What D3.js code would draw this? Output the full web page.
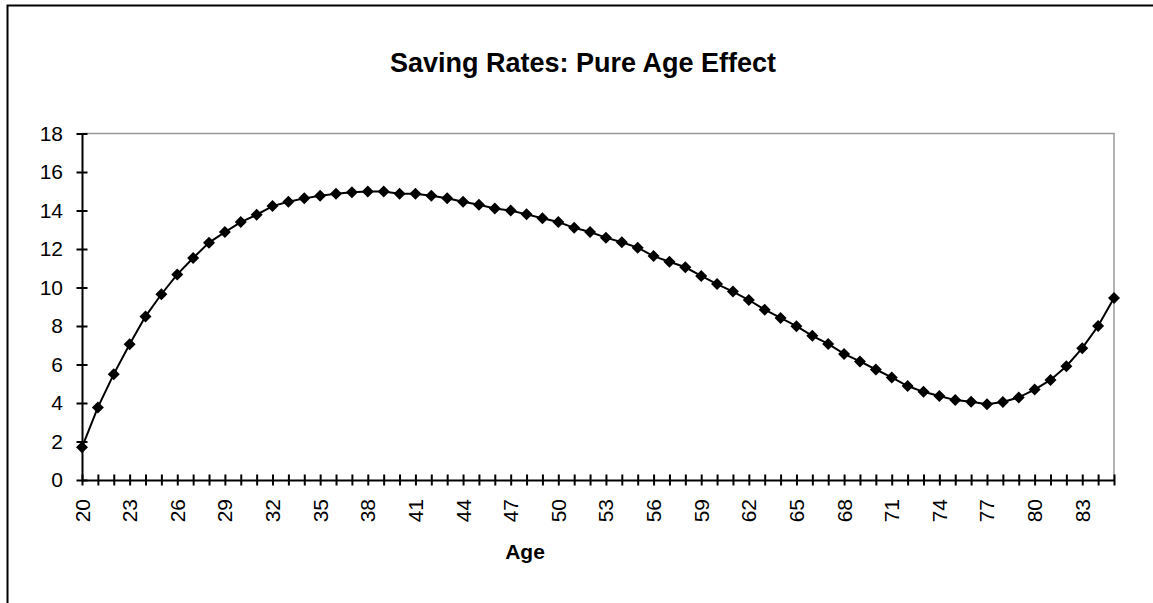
<!DOCTYPE html>
<html>
<head>
<meta charset="utf-8">
<script src="https://cdn.jsdelivr.net/npm/d3@7"></script>
<style>
  html, body { margin: 0; padding: 0; background: #fff; }
  svg { display: block; font-family: "Liberation Sans", Arial, sans-serif; }
</style>
</head>
<body>
<svg id="chart" width="1153" height="603"></svg>
<script>
const title = "Saving Rates: Pure Age Effect";
const xTitle = "Age";
const ages = d3.range(20, 86);
const savingRates = [
  1.70, 3.77, 5.50, 7.05, 8.50, 9.65, 10.68, 11.53, 12.33, 12.88,
  13.40, 13.78, 14.23, 14.45, 14.63, 14.77, 14.87, 14.95, 14.99, 14.99,
  14.87, 14.87, 14.77, 14.64, 14.45, 14.30, 14.10, 14.00, 13.80, 13.60,
  13.40, 13.10, 12.88, 12.59, 12.35, 12.07, 11.63, 11.34, 11.05, 10.60,
  10.18, 9.79, 9.35, 8.85, 8.42, 7.99, 7.49, 7.07, 6.55, 6.16,
  5.74, 5.33, 4.88, 4.58, 4.36, 4.15, 4.06, 3.93, 4.05, 4.29,
  4.70, 5.20, 5.91, 6.85, 8.00, 9.46
];
const xTickLabels = d3.range(20, 86, 3);
const yTicks = [0, 2, 4, 6, 8, 10, 12, 14, 16, 18];

(function () {
const svg = d3.select("#chart");

// outer chart frame (extends beyond the visible window on right/bottom)
svg.append("rect")
  .attr("x", 7.5).attr("y", 5.5)
  .attr("width", 1200).attr("height", 700)
  .attr("fill", "none").attr("stroke", "#000").attr("stroke-width", 2);

const pLeft = 82, pRight = 1114, pTop = 133.5, pBottom = 480;
const x = d3.scaleLinear().domain([20, 85]).range([pLeft, pRight]);
const y = d3.scaleLinear().domain([0, 18]).range([pBottom, pTop]);

// plot area border (gray top and right)
svg.append("path")
  .attr("d", `M${pLeft},${pTop}H${pRight}V${pBottom}`)
  .attr("fill", "none").attr("stroke", "#999").attr("stroke-width", 1.5);

// y axis
const yAxis = svg.append("g")
  .attr("transform", `translate(${pLeft},0)`)
  .call(d3.axisLeft(y).tickValues(yTicks).tickSize(0).tickPadding(19).tickFormat(d3.format("d")));
yAxis.select(".domain").attr("stroke", "#000").attr("stroke-width", 2);
yAxis.selectAll(".tick line").attr("x1", -5.5).attr("x2", 5.5).attr("stroke", "#000").attr("stroke-width", 2);
yAxis.selectAll(".tick text").attr("font-size", 21).attr("fill", "#000")
  .attr("font-family", "Liberation Sans, Arial, sans-serif");

// x axis
const xAxis = svg.append("g")
  .attr("transform", `translate(0,${pBottom})`)
  .call(d3.axisBottom(x).tickValues(ages).tickSize(0).tickFormat(""));
xAxis.select(".domain").attr("stroke", "#000").attr("stroke-width", 2);
xAxis.selectAll(".tick line").attr("y1", -5.5).attr("y2", 5.5).attr("stroke", "#000").attr("stroke-width", 2);

// rotated x tick labels
svg.append("g").selectAll("text")
  .data(xTickLabels)
  .join("text")
  .attr("transform", d => `translate(${x(d) + 7.5},${pBottom + 19}) rotate(-90)`)
  .attr("text-anchor", "end")
  .attr("font-size", 21)
  .attr("fill", "#000")
  .text(d => d);

// line
const pts = ages.map((a, i) => [a, savingRates[i]]);
svg.append("path")
  .datum(pts)
  .attr("fill", "none").attr("stroke", "#000").attr("stroke-width", 2)
  .attr("d", d3.line().x(d => x(d[0])).y(d => y(d[1])));

// diamond markers
const r = 6;
svg.append("g").selectAll("path")
  .data(pts)
  .join("path")
  .attr("transform", d => `translate(${x(d[0])},${y(d[1])})`)
  .attr("d", `M0,${-r}L${r},0L0,${r}L${-r},0Z`)
  .attr("fill", "#000");

// title
svg.append("text")
  .attr("x", 583).attr("y", 72)
  .attr("text-anchor", "middle")
  .attr("font-size", 27).attr("font-weight", "bold")
  .text(title);

// x axis title
svg.append("text")
  .attr("x", 525).attr("y", 559)
  .attr("text-anchor", "middle")
  .attr("font-size", 21).attr("font-weight", "bold")
  .text(xTitle);
})();
</script>
</body>
</html>
